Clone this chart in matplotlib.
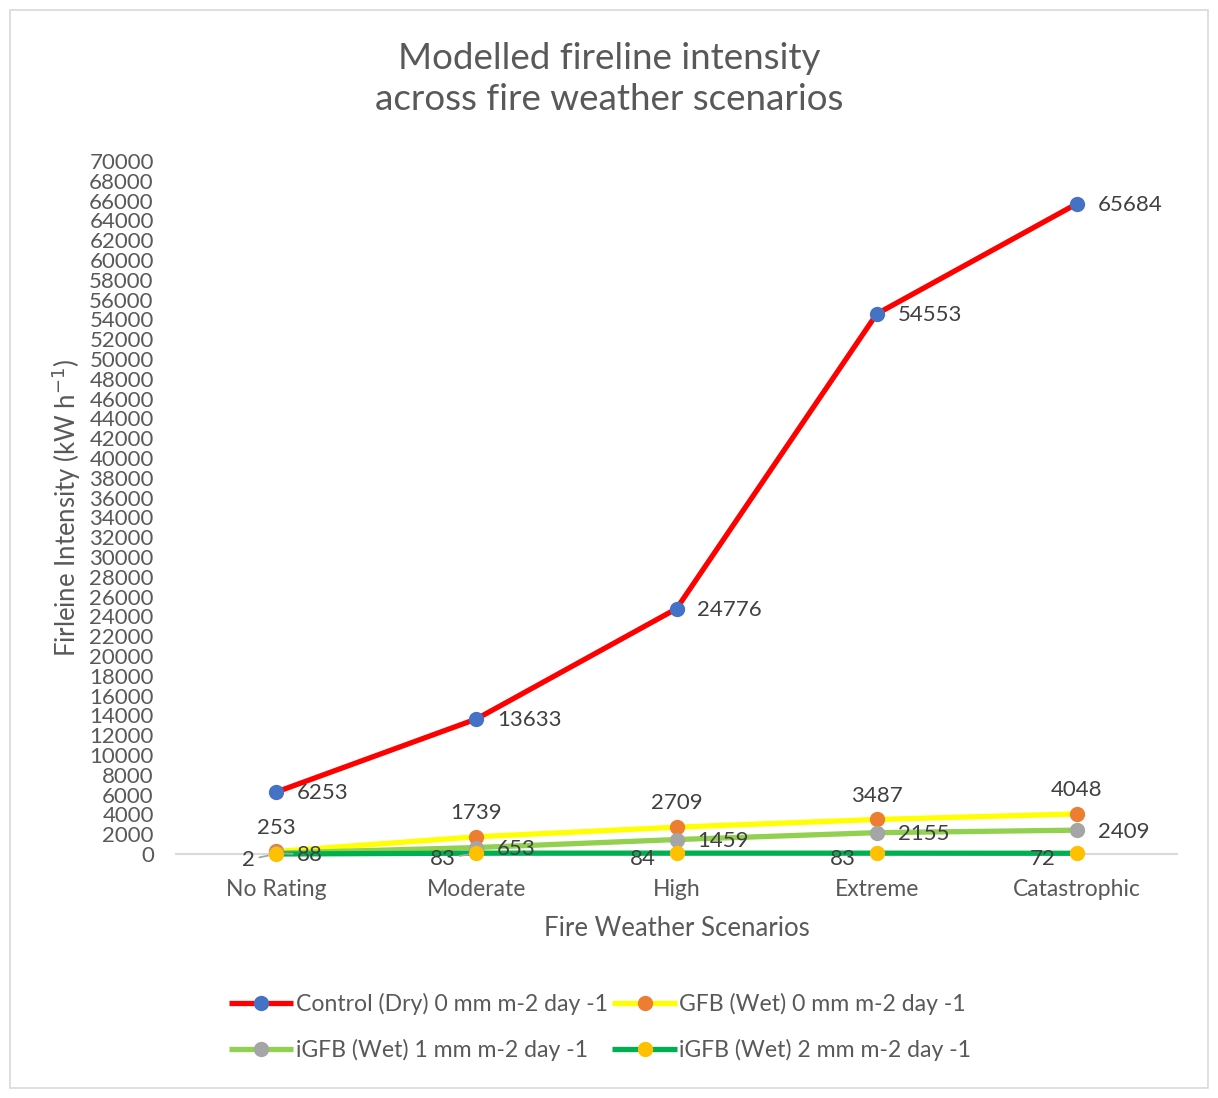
import matplotlib
matplotlib.use("Agg")
import matplotlib.pyplot as plt
from matplotlib.patches import Rectangle

categories = ["No Rating", "Moderate", "High", "Extreme", "Catastrophic"]
control = [6253, 13633, 24776, 54553, 65684]
gfb0 = [253, 1739, 2709, 3487, 4048]
igfb1 = [88, 653, 1459, 2155, 2409]
igfb2 = [2, 83, 84, 83, 72]
series_names = ["Control (Dry) 0 mm m-2 day -1", "GFB (Wet) 0 mm m-2 day -1",
                "iGFB (Wet) 1 mm m-2 day -1", "iGFB (Wet) 2 mm m-2 day -1"]
yticks = list(range(0, 70001, 2000))

plt.rcParams['font.family'] = ['Lato', 'DejaVu Sans']
TC = '#595959'
LC = '#404040'

fig = plt.figure(figsize=(12.18, 10.98), dpi=100)
ax = fig.add_axes([176/1218, 1-854/1098, 1001/1218, 693/1098])

x = list(range(len(categories)))
styles = [
    (control, '#FF0000', '#4472C4', 'right'),
    (gfb0, '#FFFF00', '#ED7D31', 'above'),
    (igfb1, '#92D050', '#A5A5A5', 'right'),
    (igfb2, '#00B050', '#FFC000', 'left'),
]
# (series index, category index) of labels drawn with a leader line
leaders = {(2, 0), (3, 0), (3, 1)}
handles = []
for i, ((vals, lc, mc, pos), name) in enumerate(zip(styles, series_names)):
    h, = ax.plot(x, vals, color=lc, lw=3.8, marker='o', markersize=10,
                 markerfacecolor=mc, markeredgecolor=mc, label=name,
                 zorder=3 + i, solid_capstyle='butt', clip_on=False)
    handles.append(h)
    for xi, v in zip(x, vals):
        ap = None
        if (i, xi) in leaders:
            ap = dict(arrowstyle='-', color='#A6A6A6', lw=1.3, shrinkA=1, shrinkB=6)
        if pos == 'right':
            off, ha, va = (15, -1), 'left', 'center'
        elif pos == 'above':
            off, ha, va = (0, 10), 'center', 'bottom'
        else:
            off, ha, va = (-15, -4), 'right', 'center'
        ax.annotate(f"{v}", (xi, v), xytext=off, textcoords='offset points',
                    ha=ha, va=va, fontsize=16, color=LC, zorder=10, arrowprops=ap)

ax.set_xlim(-0.5, 4.5)
ax.set_ylim(0, 70000)
ax.set_yticks(yticks)
ax.set_yticklabels([str(t) for t in yticks])
ax.set_xticks(x)
ax.set_xticklabels(categories)
ax.tick_params(axis='y', length=0, labelsize=16, labelcolor=TC, pad=16)
ax.tick_params(axis='x', length=0, labelsize=16.5, labelcolor=TC, pad=18)
for s in ['top', 'right', 'left']:
    ax.spines[s].set_visible(False)
ax.spines['bottom'].set_color('#D9D9D9')
ax.spines['bottom'].set_linewidth(1.5)
ax.patch.set_alpha(0)

ax.set_ylabel("Firleine Intensity (kW h$^{-1}$)", fontsize=18.5, color=TC)
ax.yaxis.set_label_coords((83-176)/1001, 0.5)
ax.set_xlabel("Fire Weather Scenarios", fontsize=18.5, color=TC)
ax.xaxis.set_label_coords(0.5, (854-916)/693)

fig.text(609/1218, 1-79/1098, "Modelled fireline intensity\nacross fire weather scenarios",
         ha='center', va='center', fontsize=26.5, color=TC, linespacing=1.3)

order = [0, 2, 1, 3]
leg = fig.legend([handles[k] for k in order], [series_names[k] for k in order],
                 loc='center', bbox_to_anchor=(600/1218, 1-1027/1098), ncol=2,
                 frameon=False, fontsize=16.6, handlelength=2.8, handletextpad=0.1,
                 columnspacing=0.2, labelspacing=1.05, labelcolor=TC)

fig.patches.append(Rectangle((10/1218, 10/1098), 1198/1218, 1078/1098,
                             transform=fig.transFigure, fill=False,
                             edgecolor='#D9D9D9', lw=1.2))

fig.savefig("out.png", dpi=100)
